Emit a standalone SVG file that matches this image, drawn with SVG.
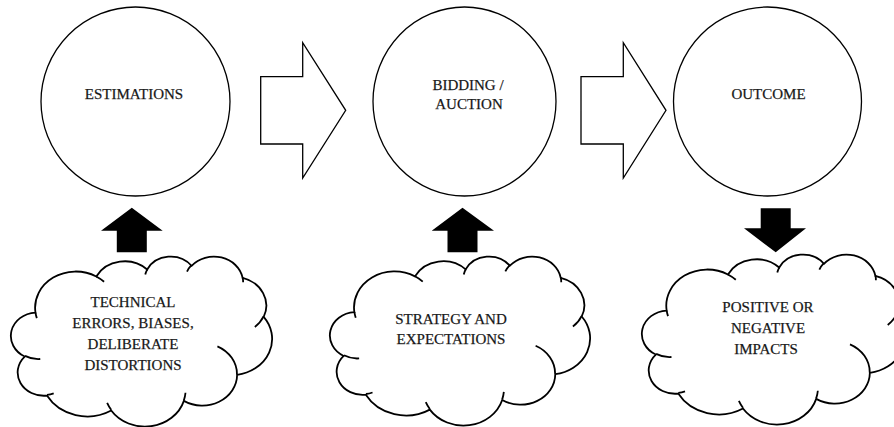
<svg xmlns="http://www.w3.org/2000/svg" xmlns:xlink="http://www.w3.org/1999/xlink" width="894" height="427" viewBox="0 0 894 427">
<style>
.bg{fill:#ffffff}
.node{fill:#ffffff;stroke:#000000;stroke-width:1.3}
.cloud{fill:#ffffff;stroke:#000000;stroke-width:1.8}
.cloudin{fill:none;stroke:#000000;stroke-width:1.8}
.flow{fill:#ffffff;stroke:#000000;stroke-width:1.3;stroke-linejoin:miter}
.solid{fill:#000000;stroke:none}
text{font-family:'Liberation Serif','Times New Roman',serif;font-size:15px;fill:#111111;stroke:#333333;stroke-width:0.25;text-anchor:middle}
</style>
<defs>
<g id="cloudShape">
<path class="cloud" vector-effect="non-scaling-stroke" d="M3900,14370 A6753,9190 0 0 1 14005.6,5202.4 A5333,7267 0 0 1 22457.6,3432.3 A4365,5945 0 0 1 29834.3,2481 A4857,6595 0 0 1 38319.6,5576 A5333,7273 0 0 1 41819.9,15459.4 A6775,9220 0 0 1 37406.2,30203.4 A5785,7867 0 0 1 28557.5,36813.4 A6752,9215 0 0 1 16483.6,39268.2 A7720,10543 0 0 1 5807.1,35473.7 A4360,5918 0 0 1 2114.3,25554 A4345,5945 0 0 1 3900,14370 Z"/>
<path class="cloudin" vector-effect="non-scaling-stroke" d="M4693,26177 A4345,5945 0 0 1 2159.6,25379.9 M6928,34899 A4360,5918 0 0 1 5819.5,35280.5 M16478,39090 A6752,9215 0 0 1 15808.6,37346.2 M28827,34751 A6752,9215 0 0 1 28560.4,36659.8 M34129,22954 A5785,7867 0 0 1 37380.9,30089.9 M41798,15354 A5333,7273 0 0 1 40350,18030.3 M38324,5426 A4857,6595 0 0 1 38400.4,6689.6 M29078,3952 A4857,6595 0 0 1 29819.1,2341.6 M22141,4720 A4365,5945 0 0 1 22500.3,3329.9 M14000,5192 A6753,9190 0 0 1 15301,6542.3 M4127,15789 A6753,9190 0 0 1 3900.3,14371.3"/>
</g>
</defs>
<rect class="bg" x="0" y="0" width="894" height="427"/>

<g id="estimations">
<ellipse class="node" cx="135.5" cy="101.5" rx="94.5" ry="94.5"/>
<text x="134" y="98.5">ESTIMATIONS</text>
</g>
<g id="bidding">
<ellipse class="node" cx="464.5" cy="101.5" rx="91.5" ry="94.5"/>
<text x="468" y="89.5">BIDDING /</text>
<text x="469" y="108.5">AUCTION</text>
</g>
<g id="outcome">
<ellipse class="node" cx="767.5" cy="101.5" rx="94" ry="94.5"/>
<text x="768.5" y="98.5">OUTCOME</text>
</g>

<g id="cloud-errors">
<use xlink:href="#cloudShape" href="#cloudShape" transform="translate(12,256) scale(0.0060185,0.0039352)"/>
<text x="133" y="306.5">TECHNICAL</text>
<text x="133" y="327.8">ERRORS, BIASES,</text>
<text x="133" y="349">DELIBERATE</text>
<text x="133" y="370.3">DISTORTIONS</text>
</g>
<g id="cloud-strategy">
<use xlink:href="#cloudShape" href="#cloudShape" transform="translate(331,256) scale(0.0059954,0.003912)"/>
<text x="451" y="323.5">STRATEGY AND</text>
<text x="451" y="344.3">EXPECTATIONS</text>
</g>
<g id="cloud-impacts">
<use xlink:href="#cloudShape" href="#cloudShape" transform="translate(643,254) scale(0.0060648,0.0039352)"/>
<text x="768" y="311.5">POSITIVE OR</text>
<text x="768" y="332.5">NEGATIVE</text>
<text x="766" y="353.5">IMPACTS</text>
</g>

<g id="connectors">
<path class="flow" d="M260.7,76.7 H302.7 V42.7 L345.7,110.3 L302.7,178 V144 H260.7 Z"/>
<path class="flow" d="M581,76.7 H623.3 V42.7 L666,110.3 L623.3,178 V144 H581 Z"/>
<path class="solid" d="M131.8,207.7 L162.7,230.7 H146.8 V252.3 H116.8 V230.7 H101 Z"/>
<path class="solid" d="M462.5,207.7 L494,230.7 H477.5 V252.3 H447.5 V230.7 H431.7 Z"/>
<path class="solid" d="M760.7,208.3 H790.7 V228.3 H806 L775.7,252.3 L744,228.3 H760.7 Z"/>
</g>
</svg>
